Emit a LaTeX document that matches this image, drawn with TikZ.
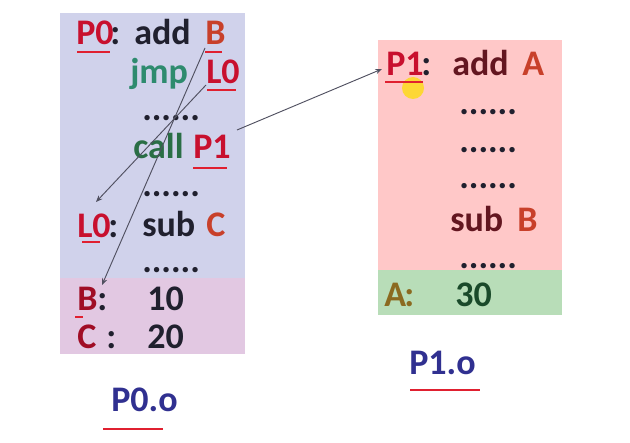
\documentclass[tikz,border=0pt]{standalone}
\usepackage{fontspec}
\setmainfont{Carlito}
\usetikzlibrary{arrows.meta}
\definecolor{boxblue}{HTML}{D0D2EB}
\definecolor{boxmauve}{HTML}{E2C8E2}
\definecolor{boxpink}{HTML}{FFC8C8}
\definecolor{boxgreen}{HTML}{B8DDB8}
\definecolor{labred}{HTML}{C8102E}
\definecolor{oprred}{HTML}{C8402A}
\definecolor{txtdark}{HTML}{20202E}
\definecolor{jmpgreen}{HTML}{2E8B6E}
\definecolor{callgreen}{HTML}{2A6E45}
\definecolor{fileblue}{HTML}{303090}
\definecolor{ulred}{HTML}{E02030}
\definecolor{linegray}{HTML}{505060}
\definecolor{olive}{HTML}{8B6A20}
\definecolor{darkgreen}{HTML}{1A4A2A}
\begin{document}
\begin{tikzpicture}[x=0.75pt,y=-0.75pt,
  txt/.style={anchor=base west,inner sep=0pt,font=\fontsize{27}{30}\selectfont\bfseries},
  ul/.style={draw=ulred,line width=1.6pt},
  link/.style={draw=linegray,line width=0.7pt,-{Stealth[length=5pt,width=4pt]}}]
\useasboundingbox (0,0) rectangle (630,442);
% boxes
\fill[boxblue] (60,13) rectangle (245,278);
\fill[boxmauve] (60,278) rectangle (245,354);
\fill[boxpink] (378,40) rectangle (562,270);
\fill[boxgreen] (378,270) rectangle (562,315);
% left box text
\node[txt,labred] (p0) at (76,45) {P0};
\node[txt,txtdark] (p0c) at (110,45) {:};
\node[txt,txtdark] (add0) at (134,45) {add};
\node[txt,oprred] (bop) at (205,45) {B};
\node[txt,jmpgreen] (jmp) at (130,84) {jmp};
\node[txt,labred] (l0op) at (206,84) {L0};
\node[txt,txtdark] (d1) at (142,120) {......};
\node[txt,callgreen] (call) at (133,158) {call};
\node[txt,labred] (p1op) at (193,158) {P1};
\node[txt,txtdark] (d2) at (142,196) {......};
\node[txt,labred] (l0) at (77,237) {L0};
\node[txt,txtdark] (l0c) at (108,237) {:};
\node[txt,txtdark] (sub0) at (142,236) {sub};
\node[txt,oprred] (cop) at (206,236) {C};
\node[txt,txtdark] (d3) at (142,272) {......};
\node[txt,labred!80!black] (b) at (77,310) {B};
\node[txt,txtdark] (bc) at (97,310) {:};
\node[txt,txtdark] (v10) at (147,310) {10};
\node[txt,labred!80!black] (c) at (77,348) {C};
\node[txt,txtdark] (cc) at (106,348) {:};
\node[txt,txtdark] (v20) at (147,348) {20};
% right box text
\fill[yellow!80!orange,opacity=0.75] (413,88) circle (11);
\node[txt,labred] (p1) at (386,76) {P1};
\node[txt,txtdark] (p1c) at (421,76) {:};
\node[txt,txtdark!70!red] (add1) at (452,76) {add};
\node[txt,oprred] (aop) at (522,76) {A};
\node[txt,txtdark] (e1) at (459,114) {......};
\node[txt,txtdark] (e2) at (459,152) {......};
\node[txt,txtdark] (e3) at (459,188) {......};
\node[txt,txtdark!70!red] (sub1) at (450,231) {sub};
\node[txt,oprred] (bop2) at (517,231) {B};
\node[txt,txtdark] (e4) at (459,268) {......};
\node[txt,olive] (a) at (384,306) {A};
\node[txt,olive] (ac) at (404,306) {:};
\node[txt,darkgreen] (v30) at (455,306) {30};
% file labels
\node[txt,fileblue] (f0) at (111,411) {P0.o};
\node[txt,fileblue] (f1) at (409,374) {P1.o};
% underlines
\draw[ul] (77,52) -- (110,52);
\draw[ul] (205,52) -- (222,52);
\draw[ul] (207,90) -- (236,90);
\draw[ul] (193,168) -- (227,168);
\draw[ul] (82,242) -- (100,242);
\draw[ul] (75,317) -- (83,317);
\draw[ul] (385,82) -- (423,82);
\draw[ul] (103,429) -- (163,429);
\draw[ul] (410,390) -- (480,390);
% connectors
\coordinate (bstart) at (205,48);
\coordinate (bend) at (102,285);
\coordinate (lstart) at (206,85);
\coordinate (lend) at (96,202);
\coordinate (pstart) at (237,130);
\coordinate (pend) at (382,69);
\draw[link] (bstart) -- (bend);
\draw[link] (lstart) -- (lend);
\draw[link] (pstart) -- (pend);
\end{tikzpicture}
\end{document}
